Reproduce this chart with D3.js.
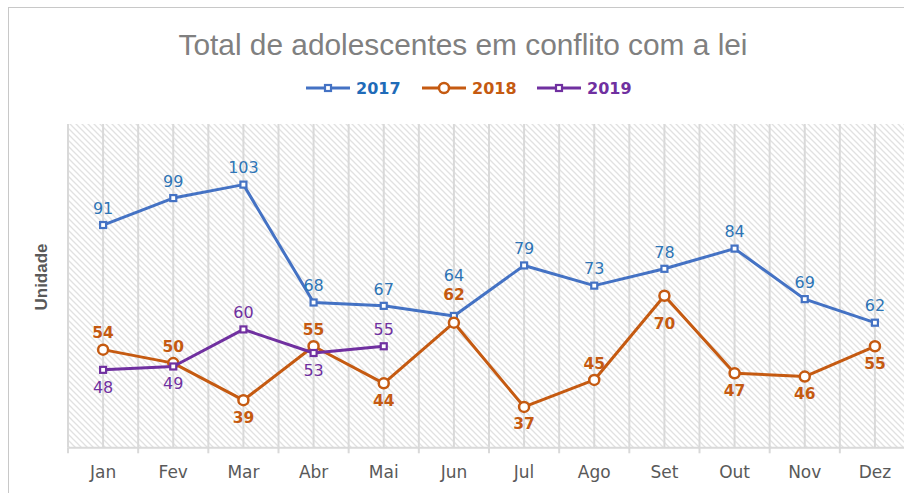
<!DOCTYPE html>
<html>
<head>
<meta charset="utf-8">
<script src="https://cdn.jsdelivr.net/npm/d3@7"></script>
<style>
  html, body { margin: 0; padding: 0; background: #fff; overflow: hidden; }
  svg { display: block; }
</style>
</head>
<body>
<svg id="chart" width="904" height="493"></svg>
<script>
// Months on the category axis
const months = ["Jan", "Fev", "Mar", "Abr", "Mai", "Jun", "Jul", "Ago", "Set", "Out", "Nov", "Dez"];

// Monthly totals per year (2019 only up to May)
const values2017 = [91, 99, 103, 68, 67, 64, 79, 73, 78, 84, 69, 62];
const values2018 = [54, 50, 39, 55, 44, 62, 37, 45, 70, 47, 46, 55];
const values2019 = [48, 49, 60, 53, 55];

// Where each data label sits: a = above, b = below, A = high above, B = far below
const labelPos2017 = ["a", "a", "a", "a", "a", "A", "a", "a", "a", "a", "a", "a"];
const labelPos2018 = ["a", "a", "b", "a", "b", "A2", "b", "a", "B", "b", "b", "b"];
const labelPos2019 = ["b", "b", "a", "b", "a"];

const seriesNames = ["2017", "2018", "2019"];

const W = 904, H = 493;
const plot = { left: 68, right: 910, top: 124, bottom: 447.3 };
const yMin = 25, yMax = 121;

const svg = d3.select("#chart");

const series = [
  { name: seriesNames[0], values: values2017, pos: labelPos2017, line: "#4472C4", text: "#2E75B6", legendText: "#1F6BB8", marker: "square", bold: false },
  { name: seriesNames[1], values: values2018, pos: labelPos2018, line: "#C55A11", text: "#C55A11", legendText: "#C55A11", marker: "circle", bold: true },
  { name: seriesNames[2], values: values2019, pos: labelPos2019, line: "#7030A0", text: "#7030A0", legendText: "#7030A0", marker: "square", bold: false }
];

const x = d3.scaleBand().domain(months).range([plot.left, plot.right]).padding(0);
const y = d3.scaleLinear().domain([yMin, yMax]).range([plot.bottom, plot.top]);
const cx = m => x(m) + x.bandwidth() / 2;

// Hatched plot background
const defs = svg.append("defs");
const pat = defs.append("pattern")
  .attr("id", "hatch")
  .attr("patternUnits", "userSpaceOnUse")
  .attr("width", 6).attr("height", 6);
pat.append("rect").attr("width", 6).attr("height", 6).attr("fill", "#ffffff");
pat.append("path")
  .attr("d", "M0,0 L6,6 M-1,5 L1,7 M5,-1 L7,1")
  .attr("stroke", "#e1e1e1").attr("stroke-width", 1.3);

// Chart frame
svg.append("rect")
  .attr("x", 8.5).attr("y", 7.5)
  .attr("width", W + 20).attr("height", H + 20)
  .attr("fill", "none").attr("stroke", "#c8c8c8").attr("stroke-width", 1);

svg.append("rect")
  .attr("x", plot.left).attr("y", plot.top)
  .attr("width", plot.right - plot.left).attr("height", plot.bottom - plot.top)
  .attr("fill", "url(#hatch)");

// Vertical gridlines at category edges and centres
const gridX = [];
months.forEach(m => { gridX.push(x(m)); gridX.push(cx(m)); });
gridX.push(plot.right);
svg.append("g").selectAll("line").data(gridX).join("line")
  .attr("x1", d => d).attr("x2", d => d)
  .attr("y1", plot.top).attr("y2", plot.bottom)
  .attr("stroke", "#d9d9d9").attr("stroke-width", 2);

// Category axis
const xAxis = svg.append("g")
  .attr("transform", `translate(0,${plot.bottom})`)
  .call(d3.axisBottom(x).tickSize(0).tickPadding(19));
xAxis.select(".domain").attr("stroke", "#d9d9d9").attr("stroke-width", 2);
xAxis.selectAll("text")
  .attr("fill", "#595959")
  .style("font-family", "'DejaVu Sans', sans-serif")
  .style("font-size", "17px");

// Tick marks between categories
const edgeX = months.map(m => x(m)).concat([plot.right]);
svg.append("g").selectAll("line").data(edgeX).join("line")
  .attr("x1", d => d).attr("x2", d => d)
  .attr("y1", plot.bottom).attr("y2", plot.bottom + 6)
  .attr("stroke", "#d9d9d9").attr("stroke-width", 2);

// Value axis title
svg.append("text")
  .attr("transform", "translate(47,277) rotate(-90)")
  .attr("text-anchor", "middle")
  .attr("fill", "#595959")
  .style("font-family", "'Liberation Sans', Arial, sans-serif")
  .style("font-weight", "bold")
  .style("font-size", "17px")
  .text("Unidade");

// Chart title
svg.append("text")
  .attr("x", 463).attr("y", 55)
  .attr("text-anchor", "middle")
  .attr("fill", "#808080")
  .attr("textLength", 569)
  .attr("lengthAdjust", "spacingAndGlyphs")
  .style("font-family", "'Liberation Sans Narrow', 'Liberation Sans', sans-serif")
  .style("font-size", "30px")
  .text("Total de adolescentes em conflito com a lei");

function drawMarker(g, s, px, py) {
  if (s.marker === "circle") {
    g.append("circle")
      .attr("cx", px).attr("cy", py).attr("r", 5)
      .attr("fill", "#ffffff").attr("stroke", s.line).attr("stroke-width", 2.5);
  } else {
    g.append("rect")
      .attr("x", px - 3).attr("y", py - 3).attr("width", 6).attr("height", 6)
      .attr("fill", "#ffffff").attr("stroke", s.line).attr("stroke-width", 2.2);
  }
}

// Series lines, markers and value labels
const offsets = { a: -17, b: 17, A: -41, A2: -28, B: 28 };
series.forEach(s => {
  const pts = s.values.map((v, i) => [cx(months[i]), y(v)]);
  const g = svg.append("g");
  g.append("path")
    .attr("d", d3.line()(pts))
    .attr("fill", "none").attr("stroke", s.line)
    .attr("stroke-width", 3).attr("stroke-linejoin", "round");
  pts.forEach(p => drawMarker(g, s, p[0], p[1]));
  s.labelGroup = svg.append("g");
});

series.forEach(s => {
  s.labelGroup.selectAll("text").data(s.values).join("text")
    .attr("x", (v, i) => cx(months[i]))
    .attr("y", (v, i) => y(v) + offsets[s.pos[i]])
    .attr("dy", "0.36em")
    .attr("text-anchor", "middle")
    .attr("fill", s.text)
    .style("font-family", "'DejaVu Sans', sans-serif")
    .style("font-size", s.bold ? "15.5px" : "16px")
    .style("font-weight", s.bold ? "bold" : "normal")
    .text(v => v);
});

// Legend
const legendStarts = [306, 422, 537];
series.forEach((s, i) => {
  const lx = legendStarts[i], ly = 88;
  const g = svg.append("g");
  g.append("line")
    .attr("x1", lx).attr("x2", lx + 44).attr("y1", ly).attr("y2", ly)
    .attr("stroke", s.line).attr("stroke-width", 3);
  drawMarker(g, s, lx + 22, ly);
  g.append("text")
    .attr("x", lx + 50).attr("y", ly).attr("dy", "0.36em")
    .attr("fill", s.legendText)
    .style("font-family", "'DejaVu Sans', sans-serif")
    .style("font-weight", "bold")
    .style("font-size", "16px")
    .text(s.name);
});
</script>
</body>
</html>
